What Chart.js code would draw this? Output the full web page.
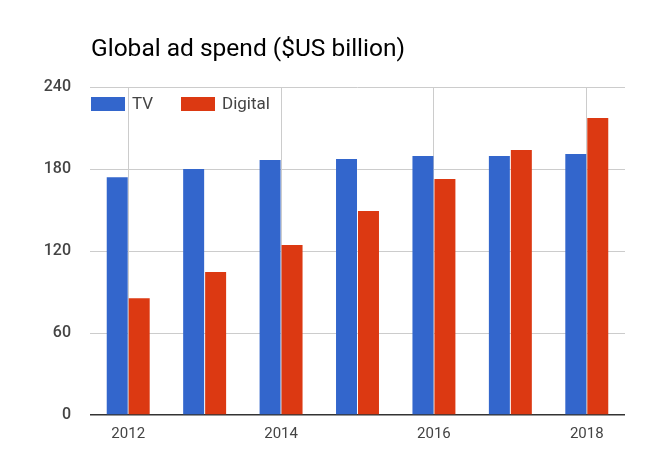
<!DOCTYPE html>
<html>
<head>
<meta charset="utf-8">
<script src="https://cdn.jsdelivr.net/npm/chart.js@4/dist/chart.umd.min.js"></script>
<style>
html,body{margin:0;padding:0;background:#fff;}
#wrap{width:666px;height:474px;position:relative;}
</style>
</head>
<body>
<div id="wrap"><canvas id="c"></canvas></div>
<script>
const years=['2012','2013','2014','2015','2016','2017','2018'];
const tv=[174,180,186.5,187.3,189.5,189.5,191];
const digital=[85.5,104.6,124.4,149.3,172.7,193.9,217.3];
const yTicks=[0,60,120,180,240];

const C={blue:'#3366cc',red:'#dc3912',grid:'#cccccc',base:'#333333',txt:'#444444'};
const FONT='Roboto';

// title + legend drawn on canvas, legend sits inside the plot like the original
const overlay={id:'overlay',afterDraw(ch){
  const ctx=ch.ctx;ctx.save();
  ctx.fillStyle='#000';ctx.font='24.5px '+FONT;ctx.textBaseline='alphabetic';ctx.textAlign='left';
  ctx.fillText('Global ad spend ($US billion)',91,56);
  let x=ch.chartArea.left+1;const y=97;
  ctx.font='17px '+FONT;ctx.textBaseline='middle';
  ch.data.datasets.forEach(ds=>{
    ctx.fillStyle=ds.backgroundColor;ctx.fillRect(x,y,34,14);
    ctx.fillStyle=C.txt;ctx.fillText(ds.label,x+41,y+7.5);
    x+=90;
  });
  ctx.restore();
}};

new Chart(document.getElementById('c'),{
  type:'bar',
  data:{labels:years,datasets:[
    {label:'TV',data:tv,backgroundColor:C.blue,categoryPercentage:0.575,barPercentage:0.955},
    {label:'Digital',data:digital,backgroundColor:C.red,categoryPercentage:0.575,barPercentage:0.955}
  ]},
  options:{
    responsive:true,maintainAspectRatio:false,animation:false,
    layout:{padding:{top:87,right:41,left:0,bottom:0}},
    plugins:{legend:{display:false},title:{display:false},tooltip:{enabled:false}},
    scales:{
      x:{
        grid:{offset:false,drawTicks:false,color:c=>c.index%2===0?C.grid:'rgba(0,0,0,0)'},
        border:{display:false},
        ticks:{padding:10,color:C.txt,font:{family:FONT,size:15},autoSkip:false,maxRotation:0,
          callback:(v,i)=>i%2===0?years[i]:''},
        afterFit:s=>{s.height=59;}
      },
      y:{
        min:0,max:240,
        afterBuildTicks:s=>{s.ticks=yTicks.map(v=>({value:v}));},
        grid:{drawTicks:false,color:c=>c.tick.value===0?C.base:C.grid,lineWidth:c=>c.tick.value===0?1.5:1},
        border:{display:false},
        ticks:{padding:19,color:C.txt,font:{family:FONT,size:16,weight:'500'}},
        afterFit:s=>{s.width=90;}
      }
    }
  },
  plugins:[overlay]
});
</script>
</body>
</html>
